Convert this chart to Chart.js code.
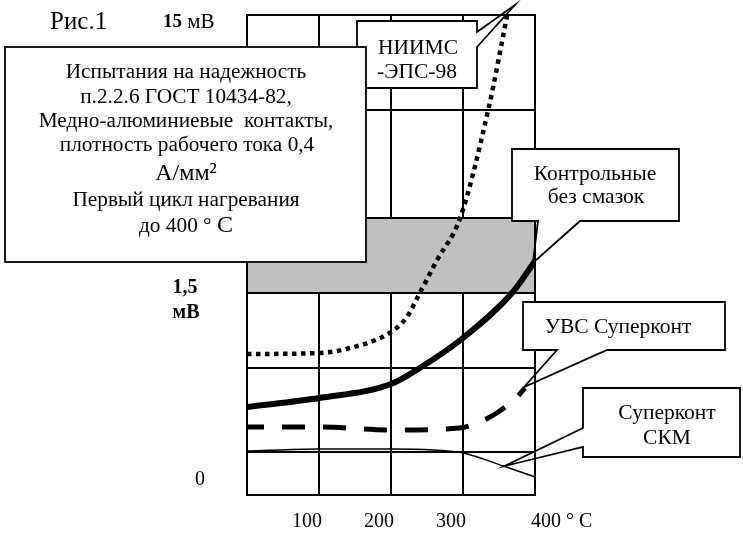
<!DOCTYPE html>
<html><head><meta charset="utf-8">
<script src="https://cdn.jsdelivr.net/npm/chart.js@4"></script>
<style>html,body{margin:0;padding:0;background:#fff}#wrap{width:743px;height:533px;position:relative}</style>
</head><body><div id="wrap"><canvas id="c"></canvas></div>
<script>
// ---- data (x: temperature °C, y: relative scale units of the original figure) ----
const xGrid = [0, 100, 200, 300, 400];
const xTickValues = [100, 200, 300, 400];
const xTickLabels = ['100', '200', '300', '400 ° C'];
const yGrid = [0, 43, 127, 202, 277, 385, 480];
const yLabelValues = [473, 207, 182, 15];
const shadeLow = 202, shadeHigh = 277;

const niimsT = [0, 100, 143, 200, 222, 240, 264, 296, 335, 362];
const niimsV = [141, 142, 147, 163, 178, 202, 235, 277, 385, 482];
const controlT = [0, 100, 200, 240, 300, 368, 400];
const controlV = [88, 97, 111, 127, 157, 202, 234];
const uvsT = [0, 100, 200, 295, 323, 347, 375, 386];
const uvsV = [68, 68, 65, 67, 73, 82, 98, 107];
const skmT = [0, 100, 200, 258, 300, 356, 400];
const skmV = [44, 46, 46, 45, 42, 29, 18];

const zip = (t, v) => t.map((x, i) => ({x, y: v[i]}));
const SERIF = '"Liberation Serif","Times New Roman",serif';

const overlay = {
  id: 'overlay',
  afterDraw(chart) {
    const ctx = chart.ctx, xs = chart.scales.x, ys = chart.scales.y;
    ctx.save();
    ctx.fillStyle = '#000';
    ctx.strokeStyle = '#000';
    ctx.textBaseline = 'middle';
    const font = (size, bold) => (bold ? 'bold ' : '') + size + 'px ' + SERIF;
    const text = (s, x, y, size, bold, align) => {
      ctx.font = font(size, bold); ctx.textAlign = align || 'center'; ctx.fillText(s, x, y);
    };
    const callout = (rect, poly) => {
      ctx.fillStyle = '#fff';
      ctx.fillRect(rect[0], rect[1], rect[2] - rect[0], rect[3] - rect[1]);
      ctx.beginPath();
      poly.forEach((p, i) => i ? ctx.lineTo(p[0], p[1]) : ctx.moveTo(p[0], p[1]));
      ctx.closePath();
      ctx.lineWidth = 1.8; ctx.lineJoin = 'miter';
      ctx.stroke();
      ctx.fillStyle = '#000';
    };
    const P = (x, y) => [xs.getPixelForValue(x), ys.getPixelForValue(y)];

    // x tick labels
    const ly = chart.chartArea.bottom + 27;
    xTickValues.forEach((v, i) => {
      const px = xs.getPixelForValue(v);
      if (i < xTickValues.length - 1) text(xTickLabels[i], px - 12, ly, 20, false, 'center');
      else text(xTickLabels[i], px - 4, ly, 20, false, 'left');
    });

    // y labels
    ctx.font = font(19, true); ctx.textAlign = 'left';
    const y15 = ys.getPixelForValue(yLabelValues[0]);
    ctx.fillText('15', 163, y15);
    const w15 = ctx.measureText('15').width;
    text(' мВ', 163 + w15, y15, 21, false, 'left');
    text('1,5', 185, ys.getPixelForValue(yLabelValues[1]), 20, true);
    text('мВ', 186, ys.getPixelForValue(yLabelValues[2]), 20, true);
    text('0', 200, ys.getPixelForValue(yLabelValues[3]), 20, false);
    text('Рис.1', 50, 22, 25, false, 'left');

    // НИИМС callout
    const tN = P(372, 490);
    callout([357, 21, 477, 88], [[357, 21], [477, 21], [477, 32], tN, [477, 47], [477, 88], [357, 88]]);
    text('НИИМС', 418, 48, 21.5);
    text('-ЭПС-98', 417, 72, 21.5);

    // big info box
    ctx.fillStyle = '#fff';
    ctx.fillRect(5, 47, 361, 215);
    ctx.lineWidth = 1.8; ctx.strokeRect(5, 47, 361, 215);
    ctx.fillStyle = '#000';
    const cx = 186;
    const fs = 21.3;
    text('Испытания на надежность', cx, 72, fs);
    text('п.2.2.6 ГОСТ 10434-82,', cx, 97, fs);
    text('Медно-алюминиевые  контакты,', cx, 121, fs);
    text('плотность рабочего тока 0,4', cx + 1, 145, fs);
    text('А/мм²', cx, 174, 24);
    text('Первый цикл нагревания', cx, 200, fs);
    ctx.font = font(fs); const wa = ctx.measureText('до 400 ° ').width;
    ctx.font = font(24); const wb = ctx.measureText('С').width;
    const sx = cx - (wa + wb) / 2;
    text('до 400 ° ', sx, 226, fs, false, 'left');
    text('С', sx + wa, 226, 24, false, 'left');

    // Контрольные callout
    const tC = P(397, 232);
    callout([512, 149, 679, 221], [[512, 149], [679, 149], [679, 221], [580, 221], tC, [538, 221], [512, 221]]);
    text('Контрольные', 595, 174, 21.5);
    text('без смазок', 596, 197, 21.5);

    // УВС callout
    const tU = P(385, 108);
    callout([523, 302, 725, 350], [[523, 302], [725, 302], [725, 350], [607, 350], tU, [557, 350], [523, 350]]);
    text('УВС Суперконт', 618, 327, 21.5);

    // СКМ callout
    const tS = P(358, 29);
    callout([583, 388, 740, 457], [[583, 388], [740, 388], [740, 457], [583, 457], [583, 447], tS, [583, 428]]);
    text('Суперконт', 667, 413, 21.5);
    text('СКМ', 667, 438, 21.5);
    ctx.restore();
  }
};

new Chart(document.getElementById('c'), {
  type: 'line',
  data: {
    datasets: [
      {label: 'НИИМС-ЭПС-98', data: zip(niimsT, niimsV), borderColor: '#000', borderWidth: 4.5,
       borderDash: [4.5, 4.5], borderCapStyle: 'butt', cubicInterpolationMode: 'monotone', pointRadius: 0, fill: false, order: 0, clip: 10},
      {label: 'Контрольные без смазок', data: zip(controlT, controlV), borderColor: '#000', borderWidth: 6,
       cubicInterpolationMode: 'monotone', pointRadius: 0, fill: false, order: 1},
      {label: 'УВС Суперконт', data: zip(uvsT, uvsV), borderColor: '#000', borderWidth: 5,
       borderDash: [23, 18], borderDashOffset: 6, cubicInterpolationMode: 'monotone', pointRadius: 0, fill: false, order: 2},
      {label: 'Суперконт СКМ', data: zip(skmT, skmV), borderColor: '#000', borderWidth: 1.5,
       cubicInterpolationMode: 'monotone', pointRadius: 0, fill: false, order: 3},
      {label: 'shadeTop', data: [{x: 0, y: shadeHigh}, {x: 400, y: shadeHigh}], borderColor: '#000', borderWidth: 2,
       pointRadius: 0, fill: false, order: 9},
      {label: 'shadeBottom', data: [{x: 0, y: shadeLow}, {x: 400, y: shadeLow}], borderColor: '#000', borderWidth: 2,
       pointRadius: 0, fill: '-1', backgroundColor: '#c0c0c0', order: 10}
    ]
  },
  options: {
    responsive: true, maintainAspectRatio: false, animation: false,
    layout: {padding: {left: 247, right: 208, top: 15, bottom: 38}},
    plugins: {legend: {display: false}, tooltip: {enabled: false}},
    scales: {
      x: {type: 'linear', min: 0, max: 400,
          afterBuildTicks: s => { s.ticks = xGrid.map(v => ({value: v})); },
          ticks: {display: false}, grid: {color: '#000', lineWidth: 2, drawTicks: false},
          border: {display: true, color: '#000', width: 2, z: 1}},
      y: {type: 'linear', min: 0, max: 480,
          afterBuildTicks: s => { s.ticks = yGrid.map(v => ({value: v})); },
          ticks: {display: false}, grid: {color: '#000', lineWidth: 2, drawTicks: false},
          border: {display: true, color: '#000', width: 2, z: 1}},
      y2: {type: 'linear', position: 'right', min: 0, max: 480,
           ticks: {display: false}, grid: {display: false, drawTicks: false},
           border: {display: true, color: '#000', width: 2, z: 1}}
    }
  },
  plugins: [overlay]
});
</script></body></html>
